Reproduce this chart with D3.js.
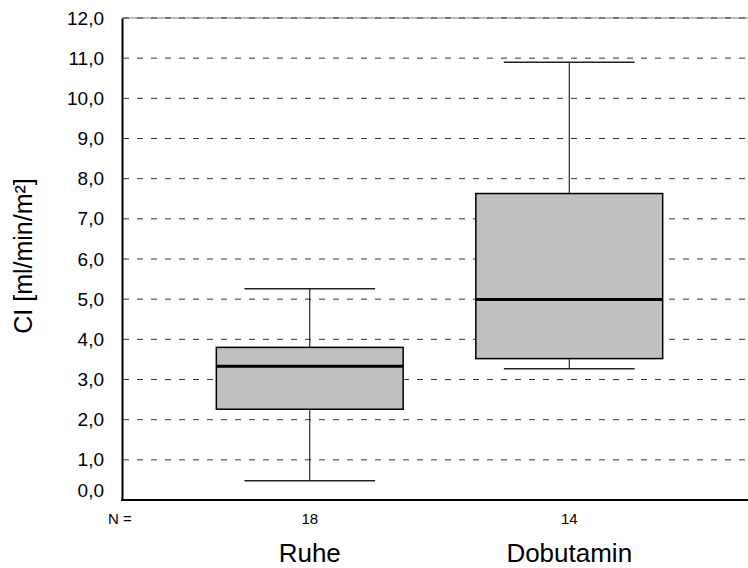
<!DOCTYPE html>
<html>
<head>
<meta charset="utf-8">
<script src="https://cdn.jsdelivr.net/npm/d3@7"></script>
<style>
  body { margin: 0; background: #fff; }
  svg { display: block; font-family: "Liberation Sans", Arial, sans-serif; }
</style>
</head>
<body>
<div id="chart"></div>
<script>
// box plot data
var categories = ["Ruhe", "Dobutamin"];
var counts = [18, 14];
var whiskerLow = [0.48, 3.27];
var q1 = [2.26, 3.52];
var median = [3.33, 4.99];
var q3 = [3.80, 7.63];
var whiskerHigh = [5.26, 10.90];
var yTicks = [0, 1, 2, 3, 4, 5, 6, 7, 8, 9, 10, 11, 12];

var margin = {top: 18, right: 0, bottom: 68, left: 122},
    width = 748 - margin.left - margin.right,
    height = 568 - margin.top - margin.bottom;

var data = categories.map(function(c, i) {
    return {cat: c, n: counts[i], lo: whiskerLow[i], q1: q1[i],
            med: median[i], q3: q3[i], hi: whiskerHigh[i]};
});

var x = d3.scaleBand()
    .domain(categories)
    .range([58, 577])
    .paddingInner(0.28)
    .paddingOuter(0.14);
var y = d3.scaleLinear().domain([0, 12]).range([height, 0]);

var svg = d3.select("#chart").append("svg")
    .attr("width", 748)
    .attr("height", 568)
  .append("g")
    .attr("transform", "translate(" + margin.left + "," + margin.top + ")");

// top line (light solid under the dashed 12 gridline)
svg.append("line")
    .attr("x1", 0).attr("x2", width)
    .attr("y1", y(12)).attr("y2", y(12))
    .style("stroke", "#aaa").style("stroke-width", 1.5);

// dashed gridlines
svg.selectAll(".grid")
    .data(yTicks.filter(function(d) { return d > 0; }))
    .enter().append("line")
    .attr("class", "grid")
    .attr("x1", 1).attr("x2", width)
    .attr("y1", function(d) { return y(d); })
    .attr("y2", function(d) { return y(d); })
    .style("stroke", "#333")
    .style("stroke-width", 1)
    .style("stroke-dasharray", "6,8");

// y axis
var yAxis = svg.append("g")
    .call(d3.axisLeft(y)
        .tickValues(yTicks)
        .tickSize(0)
        .tickPadding(18)
        .tickFormat(function(d) { return d3.format(".1f")(d).replace(".", ","); }));
yAxis.select(".domain").style("stroke", "#000").style("stroke-width", 2);
yAxis.selectAll("text")
    .style("font-size", "19px")
    .style("fill", "#000")
    .attr("dy", function(d) { return d === 0 ? "-0.2em" : "0.32em"; });

// bottom line
svg.append("line")
    .attr("x1", -1).attr("x2", width)
    .attr("y1", height).attr("y2", height)
    .style("stroke", "#000").style("stroke-width", 2);

var boxes = svg.selectAll(".box")
    .data(data)
    .enter().append("g")
    .attr("class", "box")
    .attr("transform", function(d) { return "translate(" + x(d.cat) + ",0)"; });

var bw = x.bandwidth();

// whisker stem
boxes.append("line")
    .attr("x1", bw / 2).attr("x2", bw / 2)
    .attr("y1", function(d) { return y(d.lo); })
    .attr("y2", function(d) { return y(d.hi); })
    .style("stroke", "#000").style("stroke-width", 1);

// caps
boxes.selectAll(".cap")
    .data(function(d) { return [d.lo, d.hi]; })
    .enter().append("line")
    .attr("class", "cap")
    .attr("x1", bw * 0.15).attr("x2", bw * 0.85)
    .attr("y1", function(v) { return y(v); })
    .attr("y2", function(v) { return y(v); })
    .style("stroke", "#222").style("stroke-width", 1.5);

// box
boxes.append("rect")
    .attr("x", 0)
    .attr("width", bw)
    .attr("y", function(d) { return y(d.q3); })
    .attr("height", function(d) { return y(d.q1) - y(d.q3); })
    .style("fill", "#c0c0c0")
    .style("stroke", "#000")
    .style("stroke-width", 1.5);

// median
boxes.append("line")
    .attr("x1", 0).attr("x2", bw)
    .attr("y1", function(d) { return y(d.med); })
    .attr("y2", function(d) { return y(d.med); })
    .style("stroke", "#000").style("stroke-width", 3);

// N = counts
svg.append("text")
    .attr("x", -14).attr("y", height + 24)
    .style("font-size", "15px")
    .text("N =");

boxes.append("text")
    .attr("x", bw / 2).attr("y", height + 24)
    .attr("text-anchor", "middle")
    .style("font-size", "15px")
    .text(function(d) { return d.n; });

// category labels
boxes.append("text")
    .attr("x", bw / 2).attr("y", height + 62)
    .attr("text-anchor", "middle")
    .style("font-size", "26px")
    .text(function(d) { return d.cat; });

// y axis title
svg.append("text")
    .attr("transform", "translate(" + (32 - margin.left) + "," + (256 - margin.top) + ") rotate(-90)")
    .attr("text-anchor", "middle")
    .style("font-size", "25px")
    .text("CI [ml/min/m²]");
</script>
</body>
</html>
